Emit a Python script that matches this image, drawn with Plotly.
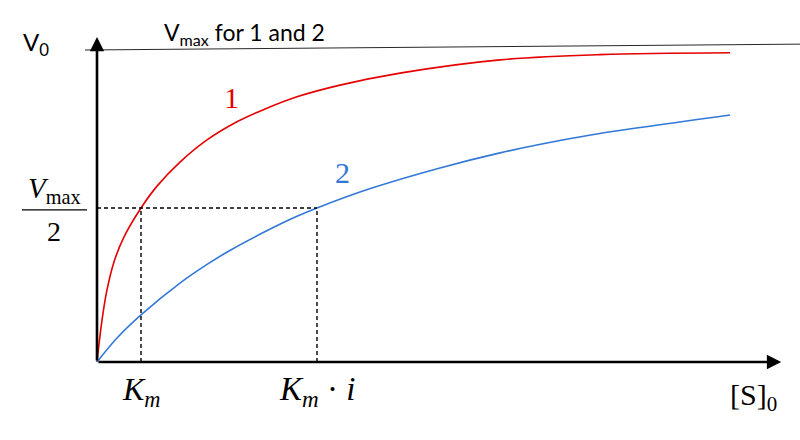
import plotly.graph_objects as go

# Data (S in units of Km, V in units of Vmax)
s_red = [0, 0.114, 0.227, 0.386, 0.614, 1.0, 1.364, 1.886, 2.5, 3.182, 3.795, 4.545, 5.523, 6.886, 9.159, 11.432, 14.386]
v_red = [0, 0.136, 0.234, 0.325, 0.406, 0.5, 0.571, 0.649, 0.721, 0.780, 0.820, 0.861, 0.899, 0.938, 0.981, 0.998, 1.004]
s_blue = [0, 0.455, 1.0, 1.893, 2.493, 3.03, 3.789, 4.545, 5.0, 6.211, 7.795, 9.159, 10.52, 11.43, 14.39]
v_blue = [0, 0.078, 0.153, 0.257, 0.316, 0.363, 0.421, 0.473, 0.5, 0.563, 0.630, 0.679, 0.719, 0.742, 0.802]
km = 1.0
km_i = 5.0
half_v = 0.5
vmax_line_s = [-0.273, 15.977]
vmax_line_v = [1.013, 1.032]

RED = "rgb(228,0,0)"
BLUE = "rgb(50,120,215)"
SERIF = "Liberation Serif"
SANS = "Lato"

fig = go.Figure()
fig.add_trace(go.Scatter(x=s_red, y=v_red, mode="lines", line=dict(color=RED, width=1.6, shape="spline", smoothing=1.0), hoverinfo="skip"))
fig.add_trace(go.Scatter(x=s_blue, y=v_blue, mode="lines", line=dict(color=BLUE, width=1.6, shape="spline", smoothing=1.0), hoverinfo="skip"))
fig.add_trace(go.Scatter(x=vmax_line_s, y=vmax_line_v, mode="lines", line=dict(color="rgb(40,40,40)", width=1), hoverinfo="skip"))

dash = dict(color="black", width=1.4, dash="4px,3px")
fig.add_shape(type="line", x0=0, x1=km_i, y0=half_v, y1=half_v, line=dash)
fig.add_shape(type="line", x0=km, x1=km, y0=0, y1=half_v, line=dash)
fig.add_shape(type="line", x0=km_i, x1=km_i, y0=0, y1=half_v, line=dash)
# fraction bar
fig.add_shape(type="line", x0=-1.705, x1=-0.227, y0=0.494, y1=0.494, line=dict(color="black", width=1.2))

# axes arrows
fig.add_annotation(x=15.55, y=0, ax=0, ay=0, axref="x", ayref="y", xref="x", yref="y", text="",
                   showarrow=True, arrowhead=2, arrowsize=1.1, arrowwidth=2.6, arrowcolor="black", standoff=0)
fig.add_annotation(x=0, y=1.055, ax=0, ay=0, axref="x", ayref="y", xref="x", yref="y", text="",
                   showarrow=True, arrowhead=2, arrowsize=1.1, arrowwidth=2.6, arrowcolor="black", standoff=0)

def txt(x, y, t, size, color="black", family=SERIF, xanchor="center", yanchor="middle"):
    fig.add_annotation(x=x, y=y, xref="x", yref="y", text=t, showarrow=False,
                       font=dict(size=size, color=color, family=family), xanchor=xanchor, yanchor=yanchor)

txt(-1.73, 1.035, "V<sub>0</sub>", 24, family=SANS, xanchor="left")
txt(1.48, 1.068, "V<sub>max</sub> for 1 and 2", 23, family=SANS, xanchor="left")
txt(-0.97, 0.558, "<i>V</i><sub>max</sub>", 29)
txt(-0.97, 0.425, "2", 28)
txt(1.0, -0.097, "<i>K<sub>m</sub></i>", 32)
txt(5.0, -0.097, "<i>K<sub>m</sub></i> · <i>i</i>", 33)
txt(14.93, -0.114, "[S]<sub>0</sub>", 30)
txt(3.068, 0.86, "1", 30, color=RED)
txt(5.59, 0.614, "2", 30, color=BLUE)

fig.update_layout(
    width=800, height=440, margin=dict(l=0, r=0, t=0, b=0, pad=0, autoexpand=False),
    plot_bgcolor="white", paper_bgcolor="white", showlegend=False,
    xaxis=dict(range=[-97/44, 703/44], visible=False),
    yaxis=dict(range=[-78/308, 362/308], visible=False),
)
fig.write_html("out.html", config={"displayModeBar": False},
               post_script="document.body.style.margin='0';document.body.style.padding='0';")
